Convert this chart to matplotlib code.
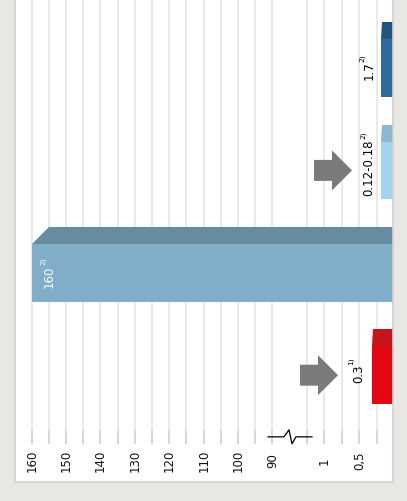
import numpy as np
import matplotlib
matplotlib.use("Agg")
import matplotlib.pyplot as plt
from matplotlib.patches import Polygon

# bars from top to bottom of the (rotated) picture
labels = ["1.7", "0.12-0.18", "160", "0.3"]
notes = ["2)", "2)", "2)", "1)"]
bar_len = [0.19, 0.19, 160, 0.32]
front_col = ["#2e6a9c", "#a2d4f2", "#80aec8", "#e30613"]
cap_col = ["#23547c", "#8ab8d3", "#678b9f", "#c4161c"]

tick_vals = [160, 150, 140, 130, 120, 110, 100, 90, 1, 0.5]
tick_text = ["160", "150", "140", "130", "120", "110", "100", "90", "1", "0,5"]
grid_vals = [0.25, 0.5, 0.75, 1.0, 1.25] + list(range(90, 165, 5))

# broken value axis: 0..1.25 and 90..160, distance in pixels from the baseline
brk_v = [-1, 0, 1.25, 90, 200]
brk_p = [-70, 0, 87.5, 122, 122 + 110 * 3.44]


def fwd(v):
    return np.interp(np.asarray(v, dtype=float), brk_v, brk_p)


def inv(p):
    return np.interp(np.asarray(p, dtype=float), brk_p, brk_v)


W, H = 407, 502
fig = plt.figure(figsize=(W / 100, H / 100), dpi=100)
fig.patch.set_facecolor("#e8e7e3")
ax = fig.add_axes([15 / W, 19 / H, 378 / W, 483 / H])
ax.set_facecolor("white")
ax.set_xscale("function", functions=(fwd, inv))
ax.set_xlim(164.85, 0.0214)
ax.set_ylim(4.043, -0.6738)
ax.set_xticks([])
ax.set_yticks([])
for s in ["left", "bottom", "right"]:
    ax.spines[s].set_color("#d3d2ce")
    ax.spines[s].set_linewidth(1.2)
ax.spines["top"].set_visible(False)

# grid and tick stubs
xt = ax.get_xaxis_transform()
ax.vlines(grid_vals, 0.0787, 1, transform=xt, color="#e4e4e4", lw=1.1, zorder=0)
ax.vlines(grid_vals, 0.0787, 0.108, transform=xt, color="#d2d2d2", lw=1.1, zorder=0)
for v, t in zip(tick_vals, tick_text):
    ax.text(v, 0.046, t, transform=xt, rotation=90, ha="center", va="center",
            fontsize=8.5, color="#111111")

# axis break symbol
bx = inv([126.5, 110.5, 105.5, 102.5, 98.5, 82.5])
by = [0.0935, 0.0935, 0.108, 0.079, 0.0935, 0.0935]
ax.plot(bx, by, transform=xt, color="black", lw=0.9, clip_on=False, zorder=5)

# bars with a perspective top face
h = 57.5 / 102.4
d = 17 / 102.4
for i, (ln, fc, cc) in enumerate(zip(bar_len, front_col, cap_col)):
    ax.barh(i, ln + 0.1, left=-0.1, height=h, color=fc, zorder=2)
    top = i - h / 2
    back = inv(fwd(ln) * 0.953)
    ax.add_patch(Polygon([(ln, top), (-0.1, top), (-0.1, top - d), (back, top - d)],
                         closed=True, facecolor=cc, edgecolor="none", zorder=2))

# value labels (offsets in pixels from the end of each bar)
main_off = [(-12, -2), (-12, 4), (17.5, -3.5), (-13, 2)]
note_off = [(-19, 11), (-18, 36), (11, 13), (-21, 15)]
txt_col = ["black", "black", "white", "black"]
px = 72 / 100
for i in range(len(labels)):
    ax.annotate(labels[i], (bar_len[i], i), xytext=(main_off[i][0] * px, main_off[i][1] * px),
                textcoords="offset points", rotation=90, ha="center", va="center",
                fontsize=8.5, color=txt_col[i], zorder=4)
    ax.annotate(notes[i], (bar_len[i], i), xytext=(note_off[i][0] * px, note_off[i][1] * px),
                textcoords="offset points", rotation=90, ha="center", va="center",
                fontsize=5.3, color=txt_col[i], zorder=4)

# grey block arrows pointing at the small bars
fig.canvas.draw()
for i, tip in [(1, 352), (3, 338)]:
    cy = H - ax.transData.transform((1, i))[1]
    pts = [(tip - 38, cy - 10.5), (tip - 20, cy - 10.5), (tip - 20, cy - 20), (tip, cy),
           (tip - 20, cy + 20), (tip - 20, cy + 10.5), (tip - 38, cy + 10.5)]
    pts = [(x, H - y) for x, y in pts]
    fig.add_artist(Polygon(pts, closed=True, facecolor="#7a7a78", edgecolor="none",
                           transform=None, zorder=6))

fig.savefig("out.png", dpi=100, facecolor=fig.get_facecolor())
